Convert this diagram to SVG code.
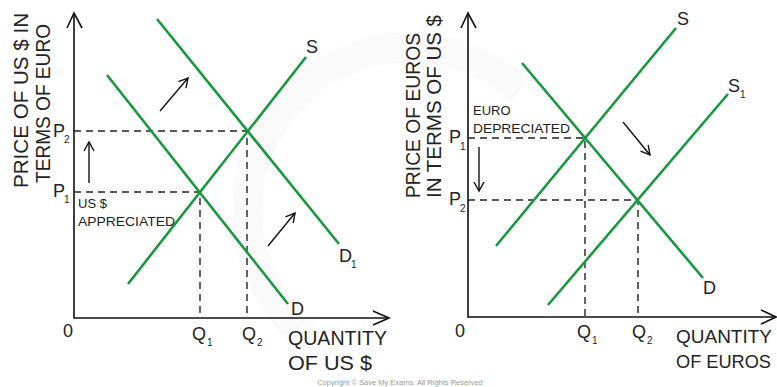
<svg xmlns="http://www.w3.org/2000/svg" width="777" height="387" viewBox="0 0 777 387">
<style>
.ax{stroke:#111;stroke-width:1.6;fill:none}
.ah{stroke:#111;stroke-width:1.6;fill:none;stroke-linejoin:miter}
.cv{stroke:#17983f;stroke-width:2.6;fill:none;stroke-linecap:butt}
.dash{stroke:#222;stroke-width:1.4;stroke-dasharray:7 5;fill:none}
.sa{stroke:#111;stroke-width:1.4;fill:none}
text{font-family:"Liberation Sans",Arial,sans-serif;fill:#222}
.lab{font-size:18px}
.sub{font-size:10px}
.big{font-size:20px}
.bigr{font-size:19px}
.note{font-size:13px}
.cap{font-size:20px}
.copy{font-size:7.5px;fill:#9a9a9a}
</style>
<defs>
<marker id="open" viewBox="0 0 12 12" refX="10" refY="6" markerWidth="12" markerHeight="12" markerUnits="userSpaceOnUse" orient="auto">
<path d="M1,1 L10,6 L1,11" fill="none" stroke="#111" stroke-width="1.4"/>
</marker>
</defs>
<g id="watermark" opacity="0.18">
<path d="M300,330 A140,140 0 0 1 520,90" fill="none" stroke="#e6e6e6" stroke-width="30"/>
</g>
<g id="left-graph">
<g id="left-axes">
<path class="ax" d="M74,13 V318 H389"/>
<path class="ah" d="M67,28 L74,13 L82,28"/>
<path class="ah" d="M373,311 L389,318 L373,325"/>
<text class="cap" transform="translate(28,100.5) rotate(-90)" text-anchor="middle" textLength="175" lengthAdjust="spacingAndGlyphs">PRICE OF US $ IN</text>
<text class="cap" transform="translate(50,103.5) rotate(-90)" text-anchor="middle" textLength="159" lengthAdjust="spacingAndGlyphs">TERMS OF EURO</text>
<text class="lab" x="63" y="337">0</text>
<text class="big" x="288" y="345" textLength="99" lengthAdjust="spacingAndGlyphs">QUANTITY</text>
<text class="big" x="288" y="370" textLength="84" lengthAdjust="spacingAndGlyphs">OF US $</text>
</g>
<g id="left-connectors">
<path class="dash" d="M74,131 H247 V318"/>
<path class="dash" d="M74,192 H200 V318"/>
<path class="sa" d="M89,183 V142" marker-end="url(#open)"/>
<path class="sa" d="M160,111 L188,78" marker-end="url(#open)"/>
<path class="sa" d="M268,246 L295,213" marker-end="url(#open)"/>
</g>
<g id="left-S">
<path class="cv" d="M128,284 L306,57"/>
<text class="lab" x="306" y="53">S</text>
</g>
<g id="left-D">
<path class="cv" d="M107,75 L288,304"/>
<text class="lab" x="291" y="315">D</text>
</g>
<g id="left-D1">
<path class="cv" d="M157,19 L339,244"/>
<text class="lab" x="339" y="262">D</text><text class="sub" x="351" y="268">1</text>
</g>
<g id="left-labels">
<text class="lab" x="53" y="137">P</text><text class="sub" x="64" y="143">2</text>
<text class="lab" x="53" y="197">P</text><text class="sub" x="64" y="203">1</text>
<text class="lab" x="192" y="340">Q</text><text class="sub" x="207" y="346">1</text>
<text class="lab" x="242" y="340">Q</text><text class="sub" x="257" y="346">2</text>
<text class="note" x="78" y="208">US $</text>
<text class="note" x="78" y="226" textLength="97" lengthAdjust="spacingAndGlyphs">APPRECIATED</text>
</g>
</g>
<g id="right-graph">
<g id="right-axes">
<path class="ax" d="M468,13 V317 H776"/>
<path class="ah" d="M761,310 L776,317 L761,324"/>
<path class="ah" d="M461,28 L468,13 L476,28"/>
<text class="cap" transform="translate(420,115.5) rotate(-90)" text-anchor="middle" textLength="165" lengthAdjust="spacingAndGlyphs">PRICE OF EUROS</text>
<text class="cap" transform="translate(441,106.5) rotate(-90)" text-anchor="middle" textLength="183" lengthAdjust="spacingAndGlyphs">IN TERMS OF US $</text>
<text class="lab" x="455" y="337">0</text>
<text class="bigr" x="676" y="343" textLength="96" lengthAdjust="spacingAndGlyphs">QUANTITY</text>
<text class="bigr" x="676" y="368" textLength="95" lengthAdjust="spacingAndGlyphs">OF EUROS</text>
</g>
<g id="right-connectors">
<path class="dash" d="M468,138 H585 V317"/>
<path class="dash" d="M468,200 H638 V317"/>
<path class="sa" d="M479,147 V191" marker-end="url(#open)"/>
<path class="sa" d="M623,122 L650,155" marker-end="url(#open)"/>
</g>
<g id="right-S">
<path class="cv" d="M496,246 L676,28"/>
<text class="lab" x="677" y="25">S</text>
</g>
<g id="right-S1">
<path class="cv" d="M548,305 L728,94"/>
<text class="lab" x="728" y="92">S</text><text class="sub" x="740" y="98">1</text>
</g>
<g id="right-D">
<path class="cv" d="M522,63 L703,278"/>
<text class="lab" x="703" y="294">D</text>
</g>
<g id="right-labels">
<text class="lab" x="449" y="143">P</text><text class="sub" x="460" y="150">1</text>
<text class="lab" x="449" y="205">P</text><text class="sub" x="460" y="212">2</text>
<text class="lab" x="577" y="338">Q</text><text class="sub" x="592" y="344">1</text>
<text class="lab" x="632" y="338">Q</text><text class="sub" x="647" y="344">2</text>
<text class="note" x="473" y="115">EURO</text>
<text class="note" x="473" y="133" textLength="97" lengthAdjust="spacingAndGlyphs">DEPRECIATED</text>
</g>
</g>
<text class="copy" x="400" y="385" text-anchor="middle">Copyright © Save My Exams. All Rights Reserved</text>
</svg>
